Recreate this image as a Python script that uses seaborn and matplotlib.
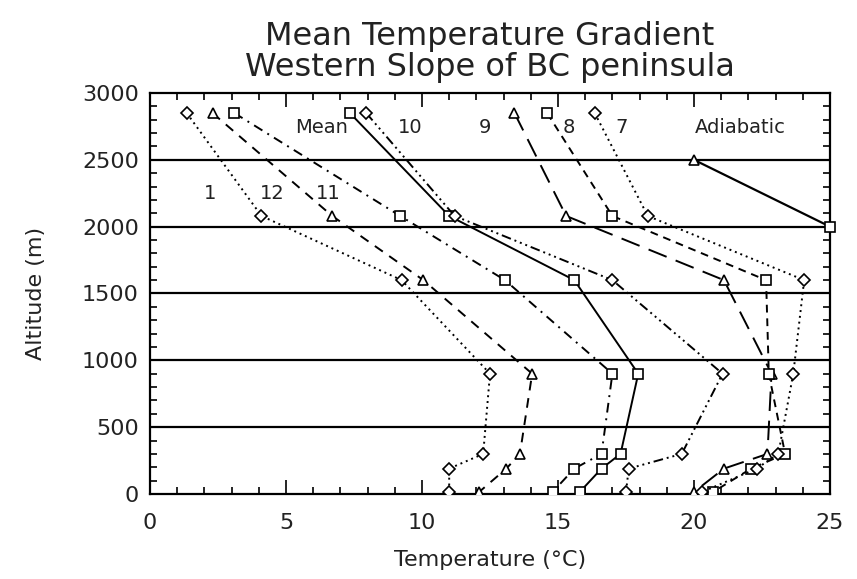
import seaborn as sns
import pandas as pd
import numpy as np
import matplotlib
matplotlib.use('Agg')
import matplotlib.pyplot as plt
from matplotlib.ticker import MultipleLocator

sns.set_style('ticks')
plt.rcParams['font.family'] = ['DejaVu Sans']

# altitudes of the stations (m)
alt = [2850, 2080, 1600, 900, 300, 190, 15]

# mean temperature per month at each altitude (deg C)
t_jan = [1.35, 4.1, 9.25, 12.5, 12.25, 11.0, 11.0]
t_dec = [2.3, 6.7, 10.05, 14.05, 13.6, 13.1, 12.1]
t_nov = [3.1, 9.2, 13.05, 17.0, 16.6, 15.6, 14.8]
t_mean = [7.35, 11.0, 15.6, 17.95, 17.3, 16.6, 15.8]
t_oct = [7.95, 11.2, 17.0, 21.05, 19.55, 17.6, 17.5]
t_sep = [13.4, 15.3, 21.1, 22.85, 22.7, 21.1, 20.0]
t_aug = [14.6, 17.0, 22.65, 22.75, 23.35, 22.1, 20.7]
t_jul = [16.35, 18.3, 24.05, 23.65, 23.1, 22.3, 20.3]

adia_alt = [2500, 2000]
adia_t = [20.0, 25.0]

series = [
    ('1', t_jan, 'D', (0, (1, 2))),
    ('12', t_dec, '^', (0, (5, 4))),
    ('11', t_nov, 's', (0, (5, 3, 1, 3))),
    ('Mean', t_mean, 's', '-'),
    ('10', t_oct, 'D', (0, (5, 2, 1, 2, 1, 2, 1, 2))),
    ('9', t_sep, '^', (0, (10, 5))),
    ('8', t_aug, 's', (0, (4, 3))),
    ('7', t_jul, 'D', (0, (1, 2))),
]

# label positions (T, altitude)
label_pos = {
    '1': (2.2, 2250), '12': (4.5, 2250), '11': (6.55, 2250),
    'Mean': (6.3, 2745), '10': (9.55, 2745), '9': (12.3, 2745),
    '8': (15.4, 2745), '7': (17.35, 2745), 'Adiabatic': (21.7, 2745),
}

fig = plt.figure(figsize=(8.57, 5.79), dpi=100)
ax = fig.add_axes([0.175, 0.1468, 0.7935, 0.6926])

for y in [500, 1000, 1500, 2000, 2500]:
    ax.axhline(y, color='black', lw=1.6, zorder=1)

for name, temps, mk, ls in series:
    df = pd.DataFrame({'T': temps, 'z': alt})
    sns.lineplot(data=df, x='T', y='z', sort=False, estimator=None, ax=ax,
                 color='black', lw=1.4, linestyle=ls, marker=mk, ms=6.5,
                 mfc='white', mec='black', mew=1.2, zorder=3)

df_ad = pd.DataFrame({'T': adia_t, 'z': adia_alt})
sns.lineplot(data=df_ad, x='T', y='z', sort=False, estimator=None, ax=ax,
             color='black', lw=1.6, zorder=3)
ax.plot(adia_t[0], adia_alt[0], marker='^', ms=7.5, mfc='white', mec='black', mew=1.2, zorder=4)
ax.plot(adia_t[1], adia_alt[1], marker='s', ms=6.5, mfc='white', mec='black', mew=1.2, zorder=4, clip_on=False)

for lab, (tx, tz) in label_pos.items():
    ax.text(tx, tz, lab, fontsize=14, ha='center', va='center', color='#222222', zorder=5)

ax.set_xlim(0, 25)
ax.set_ylim(0, 3000)
ax.xaxis.set_major_locator(MultipleLocator(5))
ax.xaxis.set_minor_locator(MultipleLocator(1))
ax.yaxis.set_major_locator(MultipleLocator(500))
ax.yaxis.set_minor_locator(MultipleLocator(100))
ax.tick_params(which='both', direction='in', top=True, right=True, color='black', width=1.2)
ax.tick_params(which='major', length=10, labelsize=16, labelcolor='#222222')
ax.tick_params(axis='x', which='major', pad=14)
ax.tick_params(axis='y', which='major', pad=8)
ax.tick_params(which='minor', length=5)
for sp in ax.spines.values():
    sp.set_linewidth(1.6)
    sp.set_color('black')

ax.set_xlabel('Temperature (°C)', fontsize=16, color='#222222', labelpad=12)
ax.set_ylabel('Altitude (m)', fontsize=16, color='#222222', labelpad=26)
ax.set_title('Mean Temperature Gradient\nWestern Slope of BC peninsula', fontsize=23,
             color='#222222', linespacing=1.0, pad=12)

fig.savefig('out.png', dpi=100)
